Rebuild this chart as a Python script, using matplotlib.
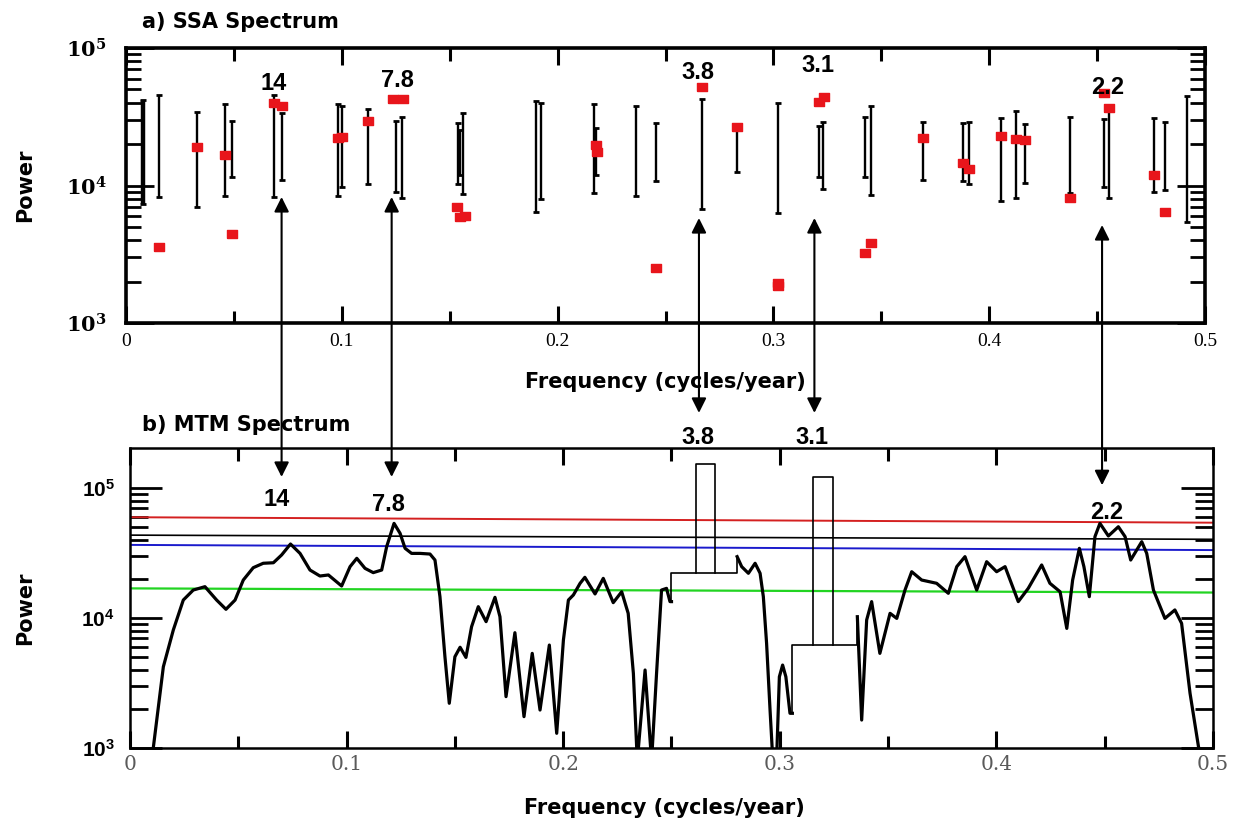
import matplotlib
matplotlib.use("Agg")
import matplotlib.pyplot as plt
import numpy as np
from matplotlib.patches import ConnectionPatch
from matplotlib.transforms import blended_transform_factory
from matplotlib.ticker import FixedLocator, FuncFormatter, NullFormatter

# ---------------- Panel a) SSA spectrum ----------------
ssa_bar_freq = [0.0080, 0.0153, 0.0330, 0.0459, 0.0493, 0.0687, 0.0721, 0.0984, 0.1000, 0.1123,
                0.1250, 0.1280, 0.1540, 0.1550, 0.1563, 0.1900, 0.1921, 0.2169, 0.2180, 0.2362,
                0.2454, 0.2670, 0.2833, 0.3023, 0.3213, 0.3231, 0.3424, 0.3450, 0.3695, 0.3880,
                0.3906, 0.4053, 0.4123, 0.4166, 0.4374, 0.4532, 0.4555, 0.4764, 0.4815, 0.4915]
ssa_bar_low = [7330, 8300, 7010, 8390, 11600, 8300, 10960, 8390, 9700, 10250,
               8910, 8070, 10250, 11900, 8670, 6460, 7940, 8770, 11900, 8390,
               10840, 6710, 12480, 6280, 11500, 9440, 11600, 8530, 10960, 10840,
               10250, 7740, 8070, 10480, 8770, 9800, 8070, 8910, 9270, 5460]
ssa_bar_high = [41900, 45500, 34400, 39200, 29300, 45500, 33900, 39200, 38000, 35800,
                29600, 31600, 28300, 25300, 33900, 41400, 39600, 39000, 26100, 38000,
                28600, 42500, 26800, 39600, 27200, 28850, 31600, 38000, 28850, 28300,
                29100, 31100, 35000, 28000, 31600, 30500, 35500, 31100, 28850, 44800]

ssa_pt_freq = [0.0153, 0.0330, 0.0459, 0.0493, 0.0687, 0.0725, 0.0984, 0.1000, 0.1123, 0.1237,
               0.1283, 0.1535, 0.1550, 0.1570, 0.2178, 0.2182, 0.2454, 0.2670, 0.2833, 0.3023,
               0.3023, 0.3213, 0.3234, 0.3424, 0.3450, 0.3695, 0.3880, 0.3906, 0.4053, 0.4123,
               0.4166, 0.4374, 0.4532, 0.4555, 0.4764, 0.4815]
ssa_pt_power = [3560, 18950, 16750, 4440, 39600, 38000, 22100, 22500, 29600, 42700,
                42700, 7010, 5930, 6000, 19700, 17600, 2520, 52400, 26800, 1870,
                1950, 40600, 44300, 3240, 3800, 22300, 14650, 13100, 22900, 21800,
                21400, 8070, 46800, 36400, 11900, 6460]

# ---------------- Panel b) MTM spectrum (log10 of power) ----------------
mtm_seg1_freq = [0.0100, 0.0154, 0.0200, 0.0246, 0.0292, 0.0346, 0.0400, 0.0443, 0.0485, 0.0523,
                 0.0569, 0.0615, 0.0662, 0.0700, 0.0741, 0.0785, 0.0831, 0.0877, 0.0916, 0.0977,
                 0.1016, 0.1047, 0.1085, 0.1123, 0.1162, 0.1185, 0.1219, 0.1247, 0.1270, 0.1300,
                 0.1339, 0.1385, 0.1408, 0.1431, 0.1454, 0.1474, 0.1500, 0.1524, 0.1551, 0.1577,
                 0.1608, 0.1644, 0.1685, 0.1708, 0.1736, 0.1777, 0.1819, 0.1857, 0.1893, 0.1936,
                 0.1970, 0.2001, 0.2024, 0.2047, 0.2078, 0.2100, 0.2147, 0.2185, 0.2231, 0.2270,
                 0.2300, 0.2324, 0.2342, 0.2378, 0.2408, 0.2431, 0.2454, 0.2477, 0.2493, 0.2500]
mtm_seg1_log = [2.90, 3.625, 3.908, 4.138, 4.215, 4.241, 4.138, 4.067, 4.138, 4.292,
                4.387, 4.421, 4.425, 4.485, 4.569, 4.497, 4.369, 4.323, 4.331, 4.246,
                4.395, 4.459, 4.382, 4.349, 4.369, 4.549, 4.728, 4.651, 4.536, 4.497,
                4.497, 4.492, 4.446, 4.164, 3.702, 3.344, 3.702, 3.775, 3.697, 3.933,
                4.087, 3.972, 4.159, 4.010, 3.395, 3.887, 3.241, 3.728, 3.292, 3.792,
                3.113, 3.831, 4.138, 4.177, 4.267, 4.313, 4.185, 4.305, 4.118, 4.202,
                4.036, 3.574, 2.90, 3.600, 2.90, 3.574, 4.215, 4.228, 4.126, 4.126]
mtm_seg2_freq = [0.2803, 0.2824, 0.2855, 0.2886, 0.2909, 0.2924, 0.2939, 0.2955, 0.2968, 0.2985,
                 0.2998, 0.3013, 0.3028, 0.3047, 0.3058]
mtm_seg2_log = [4.472, 4.395, 4.344, 4.421, 4.344, 4.164, 3.805, 3.292, 2.90, 2.90,
                3.548, 3.638, 3.548, 3.267, 3.267]
mtm_seg3_freq = [0.3358, 0.3378, 0.3401, 0.3424, 0.3462, 0.3509, 0.3540, 0.3578, 0.3609, 0.3655,
                 0.3724, 0.3778, 0.3817, 0.3855, 0.3909, 0.3955, 0.4001, 0.4040, 0.4101, 0.4147,
                 0.4209, 0.4247, 0.4294, 0.4325, 0.4352, 0.4383, 0.4404, 0.4429, 0.4455, 0.4478,
                 0.4517, 0.4563, 0.4594, 0.4620, 0.4671, 0.4694, 0.4725, 0.4778, 0.4824, 0.4855,
                 0.4894, 0.4933, 0.4960]
mtm_seg3_log = [4.010, 3.215, 3.985, 4.126, 3.728, 4.036, 3.997, 4.215, 4.356, 4.292,
                4.267, 4.190, 4.395, 4.472, 4.215, 4.433, 4.356, 4.395, 4.126, 4.228,
                4.408, 4.267, 4.202, 3.920, 4.292, 4.536, 4.395, 4.164, 4.626, 4.728,
                4.631, 4.702, 4.626, 4.446, 4.587, 4.497, 4.215, 3.997, 4.062, 3.959,
                3.421, 3.010, 2.80]

# reshaped-spectrum steps and line boxes
step1_freq = [0.2500, 0.2500, 0.2803, 0.2803]
step1_power = [13400, 22100, 22100, 29600]
box1_freq = [0.2613, 0.2613, 0.2701, 0.2701]
box1_power = [22100, 152000, 152000, 22100]
step2_freq = [0.3058, 0.3058, 0.3358, 0.3358]
step2_power = [1850, 6190, 6190, 10230]
box2_freq = [0.3155, 0.3155, 0.3247, 0.3247]
box2_power = [6190, 122000, 122000, 6190]

# significance levels (start / end of band)
sig_freq = [0.0, 0.5]
sig_red = [59600, 54100]
sig_black = [43400, 40300]
sig_blue = [36500, 33300]
sig_green = [16900, 15700]

# peak periods (years)
peak_labels = ["14", "7.8", "3.8", "3.1", "2.2"]
peak_top_freq = [0.0686, 0.1256, 0.2650, 0.3207, 0.4550]
peak_top_power = [55600, 58400, 65800, 75100, 51200]
peak_bot_freq = [0.0679, 0.1191, 0.2622, 0.3149, 0.4510]
peak_bot_power = [80900, 75300, 246000, 246000, 64300]
arrow_freq = [0.0721, 0.1231, 0.2655, 0.3190, 0.4523]
arrow_top_power = [8250, 8250, 5800, 5800, 5160]
arrow_bot_power = [121600, 121600, 378000, 378000, 105000]

W, H = 1237, 825
fig = plt.figure(figsize=(W / 100, H / 100), dpi=100)
ax1 = fig.add_axes([126 / W, 1 - 323 / H, 1079 / W, 275 / H])
ax2 = fig.add_axes([130 / W, 1 - 748 / H, 1083 / W, 300 / H])

bold_label = dict(family="DejaVu Sans", weight="bold", size=15)

# ---- panel a ----
ax1.set_xlim(0, 0.5)
ax1.set_yscale("log")
ax1.set_ylim(1e3, 1e5)
lws = [3.2] + [1.7] * (len(ssa_bar_freq) - 1)
ax1.vlines(ssa_bar_freq, ssa_bar_low, ssa_bar_high, colors="black", linewidths=lws, zorder=2)
ax1.plot(ssa_bar_freq, ssa_bar_low, "_", color="black", ms=5, mew=2, zorder=2)
ax1.plot(ssa_bar_freq, ssa_bar_high, "_", color="black", ms=5, mew=2, zorder=2)
rect_marker = [(-4, -3), (4, -3), (4, 3), (-4, 3), (-4, -3)]
ax1.plot(ssa_pt_freq, ssa_pt_power, linestyle="none", marker=rect_marker, ms=7,
         color="#e8151b", mec="#e8151b", zorder=3)

# ---- panel b ----
ax2.set_xlim(0, 0.5)
ax2.set_yscale("log")
ax2.set_ylim(1e3, 10 ** 5.3077)
for f, lg in [(mtm_seg1_freq, mtm_seg1_log), (mtm_seg2_freq, mtm_seg2_log), (mtm_seg3_freq, mtm_seg3_log)]:
    ax2.plot(f, 10 ** np.array(lg), color="black", lw=2.3, solid_joinstyle="round", zorder=3)
for f, p in [(step1_freq, step1_power), (box1_freq, box1_power), (step2_freq, step2_power), (box2_freq, box2_power)]:
    ax2.plot(f, p, color="black", lw=1.2, zorder=3)
ax2.plot(sig_freq, sig_red, color="#d42020", lw=1.4, zorder=2)
ax2.plot(sig_freq, sig_black, color="black", lw=1.2, zorder=2)
ax2.plot(sig_freq, sig_blue, color="#1a1acc", lw=1.4, zorder=2)
ax2.plot(sig_freq, sig_green, color="#22d422", lw=1.6, zorder=2)


def log_fmt(v, pos):
    return r"$\mathregular{10^{%d}}$" % int(round(np.log10(v)))


for ax, spw, xcol, xfam, xsize, yfam, ysize, ypad, xpad, ymaj, ymin in [
        (ax1, 2.6, "black", "Liberation Serif", 14, "DejaVu Serif", 15, 14, 7, 20, 11),
        (ax2, 1.8, "#5a5a5a", "DejaVu Serif", 14.5, "Liberation Sans", 15, 11, 5, 23, 13)]:
    for s in ax.spines.values():
        s.set_linewidth(spw)
    ax.xaxis.set_major_locator(FixedLocator([0, 0.1, 0.2, 0.3, 0.4, 0.5]))
    ax.xaxis.set_minor_locator(FixedLocator([0.05, 0.15, 0.25, 0.35, 0.45]))
    ax.xaxis.set_major_formatter(FuncFormatter(lambda v, p: "%g" % v))
    ax.yaxis.set_major_locator(FixedLocator([1e3, 1e4, 1e5]))
    ax.yaxis.set_minor_locator(FixedLocator([m * d for d in (1e3, 1e4) for m in range(2, 10)]))
    ax.yaxis.set_major_formatter(FuncFormatter(log_fmt))
    ax.yaxis.set_minor_formatter(NullFormatter())
    ax.tick_params(which="both", direction="in", top=True, right=True)
    ax.tick_params(axis="x", which="major", length=12, width=2.2, pad=xpad, labelsize=xsize,
                   labelcolor=xcol)
    ax.tick_params(axis="x", which="minor", length=9, width=2.2)
    ax.tick_params(axis="y", which="major", length=ymaj, width=2.0, pad=ypad, labelsize=ysize)
    ax.tick_params(axis="y", which="minor", length=ymin, width=2.0)
    for t in ax.get_xticklabels():
        t.set_fontfamily(xfam)
    for t in ax.get_yticklabels():
        t.set_fontfamily(yfam)
        t.set_fontweight("bold")

# texts
ax1.text(0.0148, 1.0945, "a) SSA Spectrum", transform=ax1.transAxes, ha="left", va="center", **bold_label)
ax2.text(0.011, 1.0767, "b) MTM Spectrum", transform=ax2.transAxes, ha="left", va="center", **bold_label)
ax1.text(0.5, -0.2145, "Frequency (cycles/year)", transform=ax1.transAxes, ha="center", va="center", **bold_label)
ax2.text(0.4935, -0.20, "Frequency (cycles/year)", transform=ax2.transAxes, ha="center", va="center", **bold_label)
ax1.text(-0.0936, 0.502, "Power", transform=ax1.transAxes, rotation=90, ha="center", va="center", **bold_label)
ax2.text(-0.097, 0.467, "Power", transform=ax2.transAxes, rotation=90, ha="center", va="center", **bold_label)

peak_font = dict(family="Liberation Sans", weight="bold", size=17)
for lab, f, p in zip(peak_labels, peak_top_freq, peak_top_power):
    ax1.text(f, p, lab, ha="center", va="center", clip_on=False, zorder=5, **peak_font)
for lab, f, p in zip(peak_labels, peak_bot_freq, peak_bot_power):
    ax2.text(f, p, lab, ha="center", va="center", clip_on=False, zorder=5, **peak_font)

trans_b = blended_transform_factory(ax1.transData, ax2.transData)
for f, pt, pb in zip(arrow_freq, arrow_top_power, arrow_bot_power):
    con = ConnectionPatch(xyA=(f, pt), coordsA=ax1.transData, xyB=(f, pb), coordsB=trans_b,
                          arrowstyle="<|-|>", mutation_scale=22, lw=1.5, color="black",
                          shrinkA=0, shrinkB=0, zorder=6)
    fig.add_artist(con)

fig.savefig("out.png", dpi=100)
